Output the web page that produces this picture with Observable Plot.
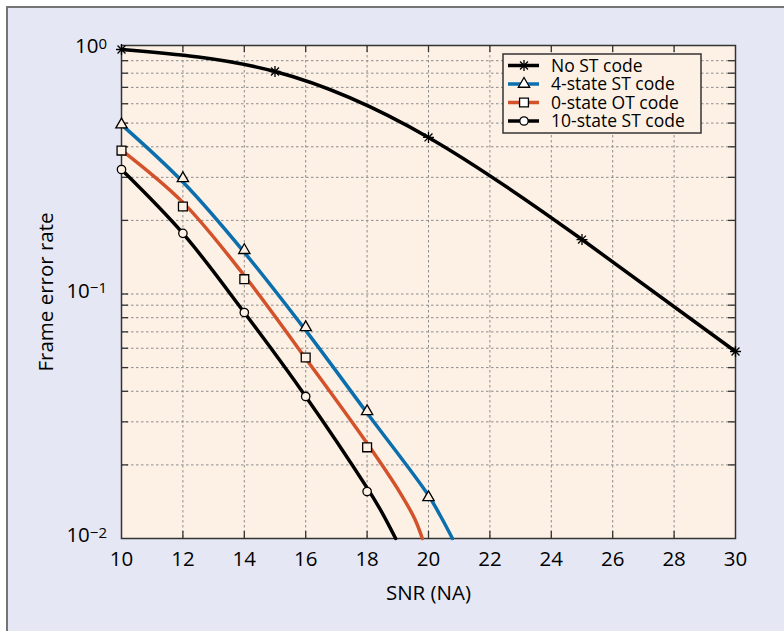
<!DOCTYPE html>
<html><head><meta charset="utf-8">
<script src="https://cdn.jsdelivr.net/npm/d3@7"></script>
<script src="https://cdn.jsdelivr.net/npm/@observablehq/plot@0.6"></script>
<style>
html,body{margin:0;padding:0;background:#ffffff;}
#wrap{position:relative;width:784px;height:631px;overflow:hidden;}
#bg{position:absolute;left:6px;top:6px;width:778px;height:625px;background:#e5e8f4;border-left:2px solid #747474;border-top:2px solid #747474;box-sizing:border-box;}
#chart{position:absolute;left:0;top:0;}
</style></head><body>
<div id="wrap"><div id="bg"></div><div id="chart"></div></div>
<script>
// ---- tick values / labels ----
const xTicks = [10, 12, 14, 16, 18, 20, 22, 24, 26, 28, 30];
const xInnerTicks = [12, 14, 16, 18, 20, 22, 24, 26, 28];
const yMajorTicks = [1, 0.1, 0.01];
const yExponents = ["0", "\u22121", "\u22122"];
const yMinorTicks = [0.9, 0.8, 0.7, 0.6, 0.5, 0.4, 0.3, 0.2, 0.09, 0.08, 0.07, 0.06, 0.05, 0.04, 0.03, 0.02];
const yGridLines = [0.9, 0.8, 0.7, 0.6, 0.5, 0.4, 0.3, 0.2, 0.1, 0.09, 0.08, 0.07, 0.06, 0.05, 0.04, 0.03, 0.02];
const xLabel = "SNR (NA)";
const yLabel = "Frame error rate";

// ---- series ----
const seriesNames = ["No ST code", "4-state ST code", "0-state OT code", "10-state ST code"];
const seriesColors = ["#000000", "#0b6fae", "#d3522b", "#000000"];

// markers (simulated points)
const noST_markX = [10, 15, 20, 25, 30];
const noST_markY = [1.0, 0.813, 0.437, 0.167, 0.0582];
const st4_markX = [10, 12, 14, 16, 18, 20];
const st4_markY = [0.493, 0.297, 0.151, 0.0730, 0.0331, 0.01473];
const ot0_markX = [10, 12, 14, 16, 18];
const ot0_markY = [0.386, 0.228, 0.115, 0.055, 0.0236];
const st10_markX = [10, 12, 14, 16, 18];
const st10_markY = [0.323, 0.177, 0.084, 0.0381, 0.01556];

// smooth curves
const noST_lineX = [10, 15, 20, 25, 30];
const noST_lineY = [1.0, 0.813, 0.437, 0.167, 0.0582];
const st4_lineX = [10, 12, 14, 16, 18, 20, 20.4, 20.78];
const st4_lineY = [0.493, 0.287, 0.148, 0.071, 0.0326, 0.0150, 0.0123, 0.01];
const ot0_lineX = [10, 12, 14, 16, 18, 19.1, 19.55, 19.8];
const ot0_lineY = [0.388, 0.237, 0.119, 0.0545, 0.0245, 0.0152, 0.01204, 0.01];
const st10_lineX = [10, 12, 14, 16, 18, 18.45, 18.93];
const st10_lineY = [0.323, 0.177, 0.084, 0.0381, 0.0161, 0.0130, 0.01];
const seriesCurves = ["natural", "catmull-rom", "catmull-rom", "catmull-rom"];

// ---- styles ----
const plotBg = "#fdf1e5";
const gridColor = "#8c8c8c";
const frameColor = "#333333";
const textColor = "#000000";

const star8 = {
  draw(ctx, size) {
    const r = Math.sqrt(size / Math.PI);
    const d = r * 0.72;
    ctx.moveTo(-r, 0); ctx.lineTo(r, 0);
    ctx.moveTo(0, -r); ctx.lineTo(0, r);
    ctx.moveTo(-d, -d); ctx.lineTo(d, d);
    ctx.moveTo(-d, d); ctx.lineTo(d, -d);
  }
};
const seriesSymbols = [star8, d3.symbolTriangle, d3.symbolSquare, d3.symbolCircle];
const seriesR = [5.5, 4.2, 5.0, 4.2];

const zipXY = (xs, ys) => xs.map((x, i) => ({x, y: ys[i]}));
const lines = [
  zipXY(noST_lineX, noST_lineY),
  zipXY(st4_lineX, st4_lineY),
  zipXY(ot0_lineX, ot0_lineY),
  zipXY(st10_lineX, st10_lineY)
];
const marks = [
  zipXY(noST_markX, noST_markY),
  zipXY(st4_markX, st4_markY),
  zipXY(ot0_markX, ot0_markY),
  zipXY(st10_markX, st10_markY)
];

const font = "'Open Sans','Noto Sans',sans-serif";

// y tick labels with superscripts, positioned via the y scale
function yTickLabels(index, scales, values, dims) {
  const g = d3.create("svg:g").attr("font-size", 20.5).attr("fill", textColor).attr("text-anchor", "end");
  yMajorTicks.forEach((t, i) => {
    const t1 = g.append("text")
      .attr("x", dims.marginLeft - 14)
      .attr("y", scales.y(t) - 3)
      .attr("dy", "0.35em")
      .attr("text-anchor", "end");
    t1.append("tspan").text("10");
    t1.append("tspan").attr("dy", "-0.3em").attr("font-size", 15).text(yExponents[i]);
  });
  return g.node();
}

// legend
function legendMark(index, scales, values, dims) {
  const right = dims.width - dims.marginRight - 34;
  const top = dims.marginTop + 9;
  const w = 198, h = 79;
  const left = right - w;
  const g = d3.create("svg:g").attr("text-anchor", "start");
  g.append("rect").attr("x", left).attr("y", top).attr("width", w).attr("height", h)
    .attr("fill", plotBg).attr("stroke", frameColor).attr("stroke-width", 1.5);
  seriesNames.forEach((name, i) => {
    const cy = top + 11.5 + i * 18.5;
    g.append("line").attr("x1", left + 5).attr("x2", left + 36).attr("y1", cy).attr("y2", cy)
      .attr("stroke", seriesColors[i]).attr("stroke-width", 3.5);
    const sym = d3.symbol().type(seriesSymbols[i]).size(Math.PI * seriesR[i] * seriesR[i]);
    g.append("path").attr("d", sym()).attr("transform", `translate(${left + 21},${cy})`)
      .attr("fill", i === 0 ? "none" : "#ffffff").attr("stroke", "#000").attr("stroke-width", 1.3);
    g.append("text").attr("x", left + 48).attr("y", cy).attr("dy", "0.35em")
      .attr("text-anchor", "start")
      .attr("font-size", 17.5).attr("fill", textColor).text(name);
  });
  return g.node();
}

const plotMarks = [
  Plot.frame({fill: plotBg, stroke: null}),
  Plot.ruleX(xInnerTicks, {x: d => d, stroke: gridColor, strokeWidth: 1, strokeDasharray: "2.5,2.5"}),
  Plot.ruleY(yGridLines, {y: d => d, stroke: gridColor, strokeWidth: 1, strokeDasharray: "2.5,2.5"}),
  // inward ticks
  Plot.ruleX(xInnerTicks, {x: d => d, stroke: frameColor, strokeWidth: 1.3, insetTop: 486}),
  Plot.ruleX(xInnerTicks, {x: d => d, stroke: frameColor, strokeWidth: 1.3, insetBottom: 486}),
  Plot.ruleY(yMinorTicks.concat([0.1]), {y: d => d, stroke: frameColor, strokeWidth: 1.3, insetRight: 607}),
  Plot.ruleY(yMinorTicks.concat([0.1]), {y: d => d, stroke: frameColor, strokeWidth: 1.3, insetLeft: 607}),
  Plot.frame({stroke: frameColor, strokeWidth: 1.5})
];
lines.forEach((data, i) => {
  plotMarks.push(Plot.line(data, {x: "x", y: "y", curve: seriesCurves[i], stroke: seriesColors[i], strokeWidth: 3.5}));
});
marks.forEach((data, i) => {
  plotMarks.push(Plot.dot(data, {x: "x", y: "y", symbol: () => seriesSymbols[i], r: seriesR[i],
    fill: i === 0 ? "none" : plotBg, stroke: "#000", strokeWidth: 1.3}));
});
plotMarks.push(
  Plot.text(xTicks, {x: d => d, frameAnchor: "bottom", dy: 21, lineAnchor: "middle", textAnchor: "middle",
    text: d => String(d), fill: textColor, fontSize: 20.5}),
  Plot.text([xLabel], {frameAnchor: "bottom", dy: 55, lineAnchor: "middle", textAnchor: "middle",
    text: d => d, fill: textColor, fontSize: 20.5}),
  Plot.text([yLabel], {frameAnchor: "left", dx: -75, rotate: -90, lineAnchor: "middle", textAnchor: "middle",
    text: d => d, fill: textColor, fontSize: 20.5}),
  yTickLabels,
  legendMark
);

const chart = Plot.plot({
  width: 784, height: 631,
  marginLeft: 121, marginRight: 49, marginTop: 45, marginBottom: 93,
  x: {domain: [10, 30], range: [121, 735], axis: null},
  y: {type: "log", domain: [0.01, 1], range: [538, 49], axis: null},
  style: {background: "transparent", fontFamily: font, fontSize: "20px", color: textColor, overflow: "visible"},
  marks: plotMarks
});
document.getElementById("chart").appendChild(chart);
</script>
</body></html>
